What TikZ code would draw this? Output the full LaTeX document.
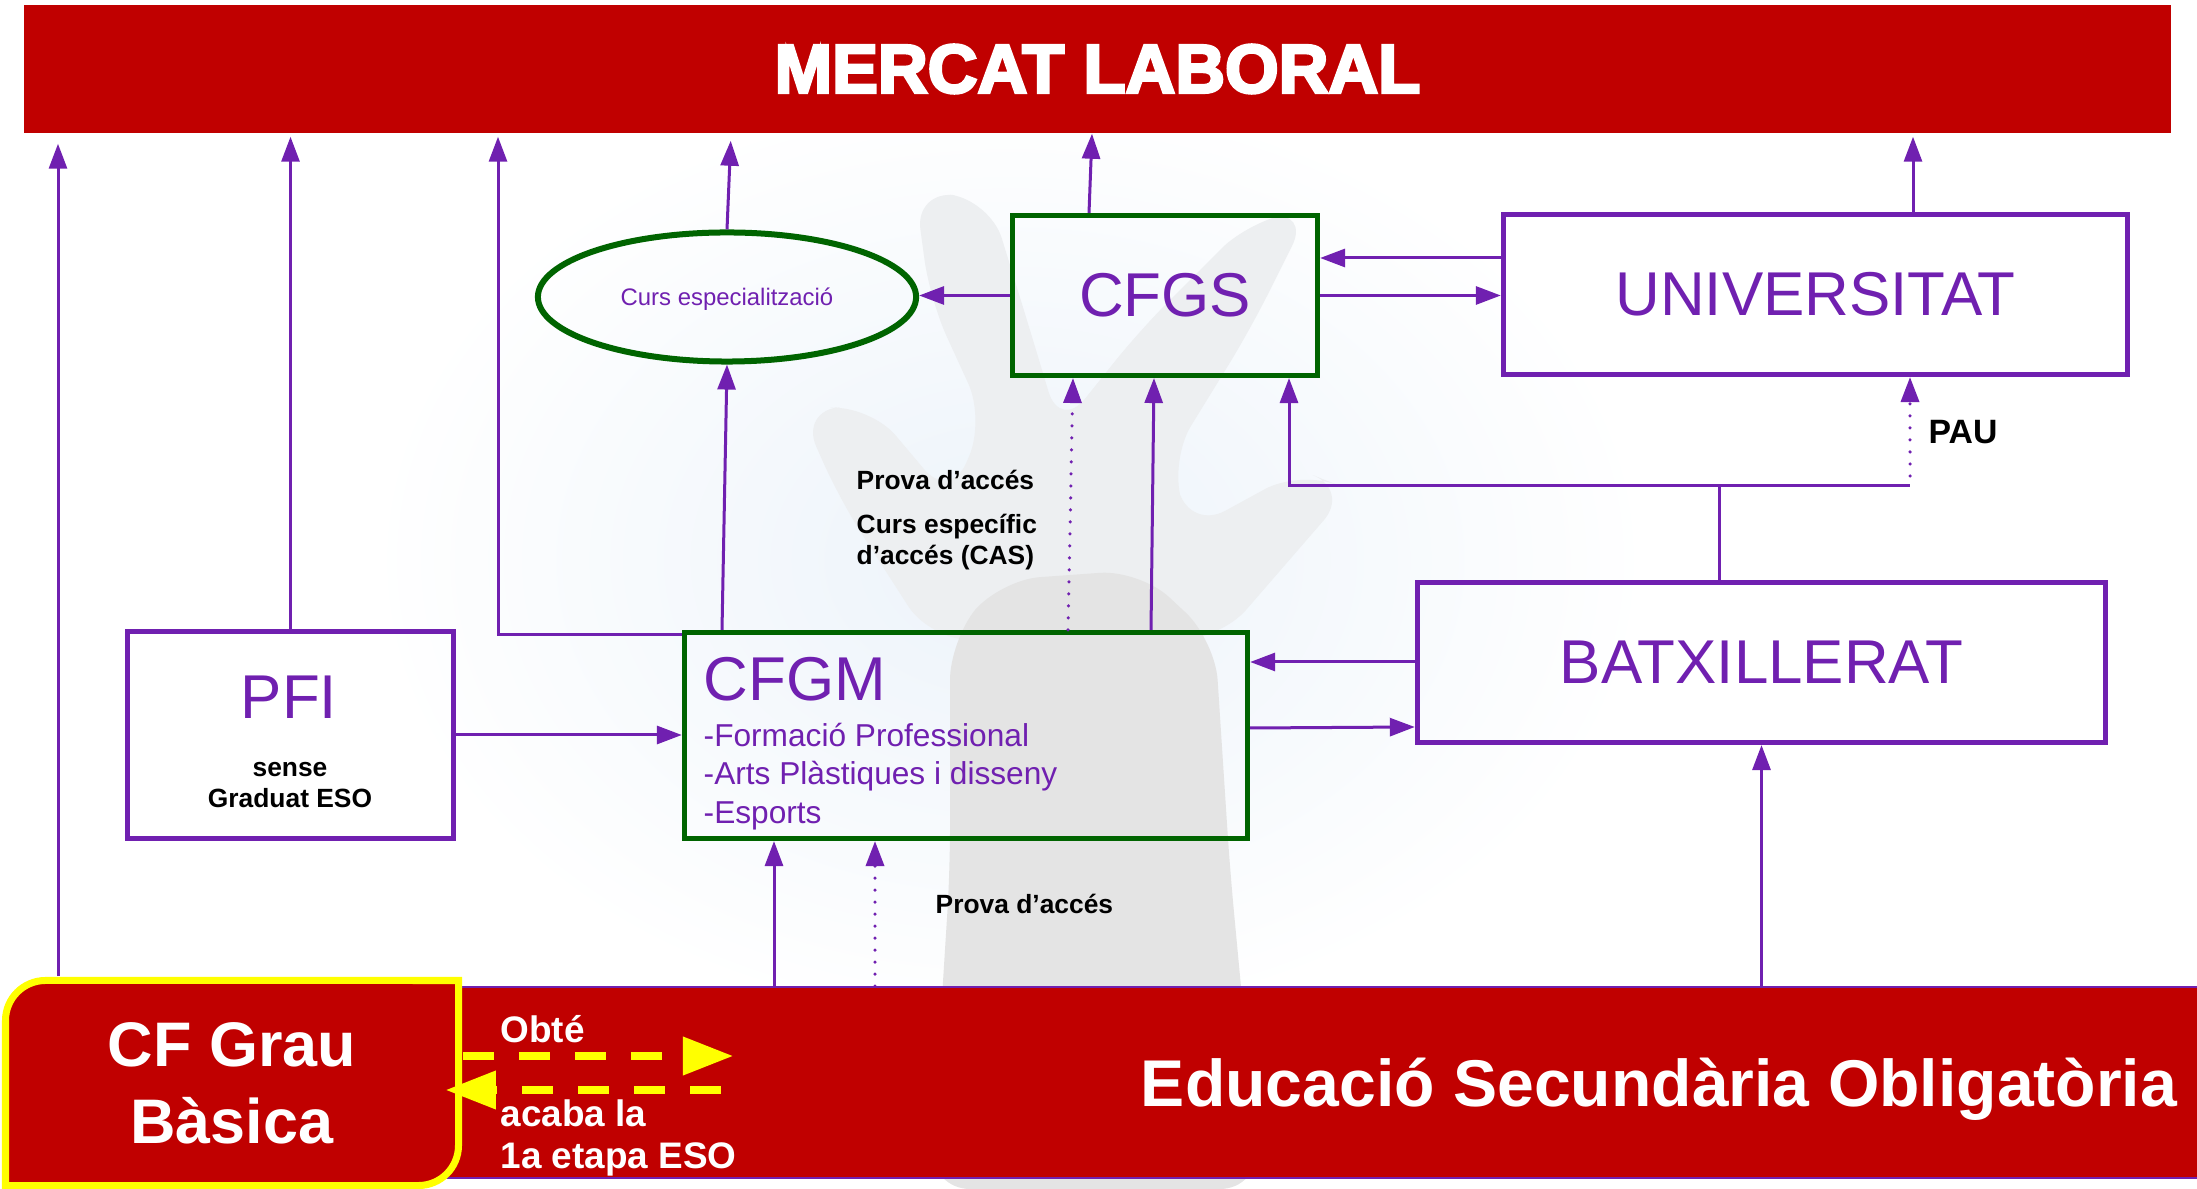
\documentclass[tikz,border=0pt]{standalone}
\usepackage{fontspec}
\setmainfont{Liberation Sans}
\newfontfamily\gruixuda{Liberation Sans}[BoldFont={Liberation Sans Bold}, BoldFeatures={FakeBold=4}]
\usepackage{xcolor}
\usepackage{tikz}
\usetikzlibrary{shapes.geometric, arrows.meta}
\usetikzlibrary{calc}
\definecolor{vermell}{RGB}{192,0,0}
\definecolor{lila}{RGB}{112,32,176}
\definecolor{verd}{RGB}{0,100,0}
\definecolor{groc}{RGB}{255,255,0}
\definecolor{blaufons}{RGB}{236,243,250}
\definecolor{gris}{RGB}{228,228,228}
\definecolor{grisclar}{RGB}{237,239,241}
\newcommand{\gran}{\fontsize{17.6}{21}\selectfont}
\newcommand{\llista}{\fontsize{9}{11}\selectfont}
\newcommand{\petita}{\bfseries\fontsize{7.5}{9}\selectfont}

\begin{document}
\begin{tikzpicture}[x=0.01cm, y=-0.01cm,
		fletxa/.style={color=lila, line width=0.03cm, -{Triangle[length=0.25cm,width=0.18cm]}},
		puntejada/.style={fletxa, line width=0.035cm, line cap=round, dash pattern=on 0pt off 0.12cm},
		groga/.style={color=groc, line width=0.07cm, dash pattern=on 0.31cm off 0.25cm, -{Triangle[length=0.5cm,width=0.37cm]}},
		caixa/.style={draw=#1, line width=0.05cm, inner sep=0pt},
		etiqueta/.style={anchor=base west, inner sep=0pt}]
			\useasboundingbox (0,0) rectangle (2197,1189);
			%fons (marca d'aigua)
			\shade[inner color=blaufons, outer color=white] (1010,560) ellipse (640 and 470);
			\fill[grisclar, rounded corners=0.4cm] (930,640) -- (840,500) -- (800,410) -- (870,405) -- (950,500) -- (985,420) -- (930,300) -- (915,190) -- (990,200) -- (1030,330) -- (1060,430) -- (1140,330) -- (1250,220) -- (1310,210) -- (1250,330) -- (1170,460) -- (1190,530) -- (1300,470) -- (1350,490) -- (1220,640) -- cycle;
			\fill[gris, rounded corners=0.4cm] (930,1189) -- (950,870) -- (950,640) -- (1000,580) -- (1140,570) -- (1215,640) -- (1230,870) -- (1260,1189) -- cycle;
			
			%mercat laboral
			\node[fill=vermell, minimum width=21.45cm, minimum height=1.28cm, inner sep=0pt, text=white, font=\gruixuda\bfseries\fontsize{19.6}{22}\selectfont] (mercat) at (1097.5,69) {MERCAT LABORAL};
			
			%ESO
			\node[fill=vermell, draw=lila, line width=0.015cm, minimum width=20.1cm, minimum height=1.91cm, inner sep=0pt] (eso) at (1205,1082.5) {};
			\node[anchor=base, text=white, font=\bfseries\fontsize{18.8}{22}\selectfont] (esotext) at (1659,1106) {Educació Secundària Obligatòria};
			
			%CF grau basica
			\draw[groc, line width=0.07cm, fill=vermell] (5.5,1185.5) -- (5.5,1020.5) arc[start angle=180, end angle=90, radius=0.4cm] -- (458.5,980.5) -- (458.5,1145.5) arc[start angle=0, end angle=-90, radius=0.4cm] -- cycle;
			\node[minimum width=4.53cm, minimum height=2.05cm, inner sep=0pt, align=center, text=white, font=\bfseries\fontsize{17.9}{21.9}\selectfont] (cfgb) at (232,1083) {CF Grau\\Bàsica};
			
			%caixes
			\node[ellipse, draw=verd, line width=0.06cm, minimum width=3.78cm, minimum height=1.29cm, inner sep=0pt, text=lila, text height=0.17cm, text depth=0pt, font=\fontsize{6.8}{8}\selectfont] (curs) at (727,297) {Curs especialització};
			\node[caixa=verd, minimum width=3.05cm, minimum height=1.60cm, text=lila, font=\gran] (cfgs) at (1165,295.5) {CFGS};
			\node[caixa=lila, minimum width=6.24cm, minimum height=1.60cm, text=lila, font=\gran] (univ) at (1815.5,294.5) {UNIVERSITAT};
			\node[caixa=lila, minimum width=6.88cm, minimum height=1.60cm, text=lila, font=\gran] (batx) at (1761.5,662.5) {BATXILLERAT};
			\node[caixa=verd, minimum width=5.63cm, minimum height=2.06cm] (cfgm) at (966,735.5) {};
			\node[caixa=lila, minimum width=3.26cm, minimum height=2.07cm] (pfi) at (290.5,735) {};
			
			%textos de CFGM i PFI
			\node[etiqueta, text=lila, font=\gran] (cfgmtitol) at (703,701) {CFGM};
			\node[etiqueta, text=lila, font=\llista] (fp) at (703,747) {-Formació Professional};
			\node[etiqueta, text=lila, font=\llista] (arts) at (703,785) {-Arts Plàstiques i disseny};
			\node[etiqueta, text=lila, font=\llista] (esports) at (703,824) {-Esports};
			\node[anchor=base, text=lila, font=\gran] (pfititol) at (289,719) {PFI};
			\node[anchor=base, font=\petita] (sense) at (290,777) {sense};
			\node[anchor=base, font=\petita] (graduat) at (290,808) {Graduat ESO};
			
			%etiquetes
			\node[etiqueta, font=\petita] (prova1) at (856,490) {Prova d’accés};
			\node[etiqueta, font=\petita] (cas1) at (856,534) {Curs específic};
			\node[etiqueta, font=\petita] (cas2) at (856,565) {d’accés (CAS)};
			\node[etiqueta, font=\petita] (prova2) at (935,914) {Prova d’accés};
			\node[etiqueta, font=\bfseries\fontsize{9.6}{11}\selectfont] (pau) at (1928,444) {PAU};
			\node[etiqueta, text=white, font=\bfseries\fontsize{10.5}{12}\selectfont] (obte) at (500,1042) {Obté};
			\node[etiqueta, text=white, font=\bfseries\fontsize{10.5}{12}\selectfont] (acaba1) at (500,1126) {acaba la};
			\node[etiqueta, text=white, font=\bfseries\fontsize{10.5}{12}\selectfont] (acaba2) at (500,1168) {1a etapa ESO};
			
			%cap al mercat laboral
			\draw[fletxa, shorten <=0.035cm, shorten >=0.1cm] (58,0 |- cfgb.north) -- (58,0 |- mercat.south);
			\draw[fletxa, shorten >=0.03cm] (pfi.north) -- (pfi.north |- mercat.south);
			\draw[fletxa, shorten >=0.03cm] ([yshift=-0.05cm]cfgm.north west) -| (498,0 |- mercat.south);
			\draw[fletxa, shorten >=0.07cm] (curs.north) -- (731,0 |- mercat.south);
			\draw[fletxa] (1089,0 |- cfgs.north) -- (1092,0 |- mercat.south);
			\draw[fletxa, shorten >=0.03cm] (1913,0 |- univ.north) -- (1913,0 |- mercat.south);
			
			%CFGS, curs i universitat
			\draw[fletxa] (cfgs.west) -- (curs.east |- cfgs.west);
			\draw[fletxa] (722,0 |- cfgm.north) -- (curs.south);
			\draw[fletxa] (univ.west |- 0,258) -- (cfgs.east |- 0,258);
			\draw[fletxa] (cfgs.east) -- (univ.west |- cfgs.east);
			
			%cap a CFGS
			\draw[puntejada] (1068,0 |- cfgm.north) -- (1073,0 |- cfgs.south);
			\draw[fletxa] (1151,0 |- cfgm.north) -- (1154,0 |- cfgs.south);
			\coordinate (nus) at (1719,486);
			\coordinate (pas) at (1910,486);
			\draw[lila, line width=0.03cm] (nus |- batx.north) -- (nus) -- (pas);
			\draw[fletxa] (nus) -| (1289,0 |- cfgs.south);
			\draw[puntejada] ([yshift=0.1cm]pas) -- (pas |- univ.south);
			
			%CFGM, PFI i batxillerat
			\draw[fletxa] (batx.west |- 0,662) -- (cfgm.east |- 0,662);
			\draw[fletxa] (cfgm.east |- 0,728) -- (batx.west |- 0,727);
			\draw[fletxa] (pfi.east) -- (cfgm.west |- pfi.east);
			
			%des de l'ESO
			\draw[fletxa] (774,0 |- eso.north) -- (774,0 |- cfgm.south);
			\draw[puntejada] (875,0 |- eso.north) -- (875,0 |- cfgm.south);
			\draw[fletxa] (batx.south |- eso.north) -- (batx.south);
			
			%fletxes grogues
			\coordinate (obtefi) at (733,1056);
			\coordinate (acabaini) at (721,1090);
			\draw[groga, shorten <=0.035cm] (cfgb.east |- obtefi) -- (obtefi);
			\draw[groga, shorten >=-0.135cm] (acabaini) -- (cfgb.east |- acabaini);
	\end{tikzpicture}
\end{document}
